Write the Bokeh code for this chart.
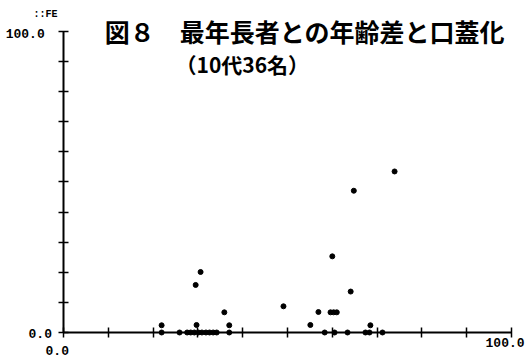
from bokeh.plotting import figure
from bokeh.models import Range1d, LinearAxis, FixedTicker, Label
from bokeh.embed import file_html
from bokeh.resources import INLINE

# ---- data ----
age_gap = [21.9, 21.9, 25.9, 27.6, 28.4, 29.2, 30.1, 30.9, 31.8, 32.6, 33.4, 34.2,
           29.5, 30.6, 29.7, 35.9, 37.0, 37.0, 49.1, 55.1, 56.9, 58.3,
           60.0, 59.6, 60.3, 61.0, 60.5, 63.4, 64.1, 64.8, 67.4, 68.3, 68.5, 71.2, 73.9]
palatal = [2.4, 0, 0, 0, 0, 0, 0, 0, 0, 0, 0, 0,
           15.8, 20.1, 2.5, 6.7, 2.4, 0, 8.7, 2.5, 6.8, 0,
           25.3, 6.7, 6.7, 6.7, 0, 0, 13.6, 47.1, 0, 0, 2.4, 0, 53.5]
x_ticks = [0, 10, 20, 30, 40, 50, 60, 70, 80, 90, 100]
y_ticks = [0, 10, 20, 30, 40, 50, 60, 70, 80, 90, 100]

title1 = "図８　最年長者との年齢差と口蓋化"
title2 = "（10代36名）"

p = figure(width=528, height=358, output_backend="svg", toolbar_location=None,
           x_range=Range1d(-14.06, 103.79), y_range=Range1d(-8.64, 110.3),
           x_axis_location=None, y_axis_location=None, min_border=0)
p.outline_line_color = None
p.xgrid.visible = False
p.ygrid.visible = False
p.background_fill_color = "white"
p.border_fill_color = "white"

def style(ax):
    ax.axis_line_width = 2
    ax.axis_line_color = "black"
    ax.major_tick_in = 5
    ax.major_tick_out = 5
    ax.major_tick_line_width = 1.5
    ax.major_tick_line_color = "black"
    ax.minor_tick_line_color = None
    ax.major_label_text_font_size = "0px"
    ax.major_label_text_alpha = 0
    ax.bounds = (0, 100)

xa = LinearAxis(fixed_location=0, ticker=FixedTicker(ticks=x_ticks))
ya = LinearAxis(fixed_location=0, ticker=FixedTicker(ticks=y_ticks))
style(xa)
style(ya)
p.add_layout(xa, "below")
p.add_layout(ya, "left")

p.scatter(age_gap, palatal, size=5, color="black")

lab_font = "Liberation Mono"
def lab(x, y, t, size="14px", font=lab_font, style="bold"):
    p.add_layout(Label(x=x, y=y, text=t, text_font=font, text_font_size=size,
                       text_font_style=style, text_color="black",
                       text_baseline="middle", text_align="left"))

lab(9.2, 100.3, title1, size="25px", font="Noto Sans CJK JP")
lab(25.0, 89.2, title2, size="21px", font="Noto Sans CJK JP")
lab(-6.7, 105.6, "::FE", size="10px")
lab(-12.9, 99.3, "100.0", size="13px")
lab(-7.8, -0.3, "0.0", size="13px")
lab(-4.0, -6.0, "0.0", size="13px")
lab(94.2, -3.3, "100.0", size="13px")

open("out.html", "w").write(file_html(p, INLINE))
